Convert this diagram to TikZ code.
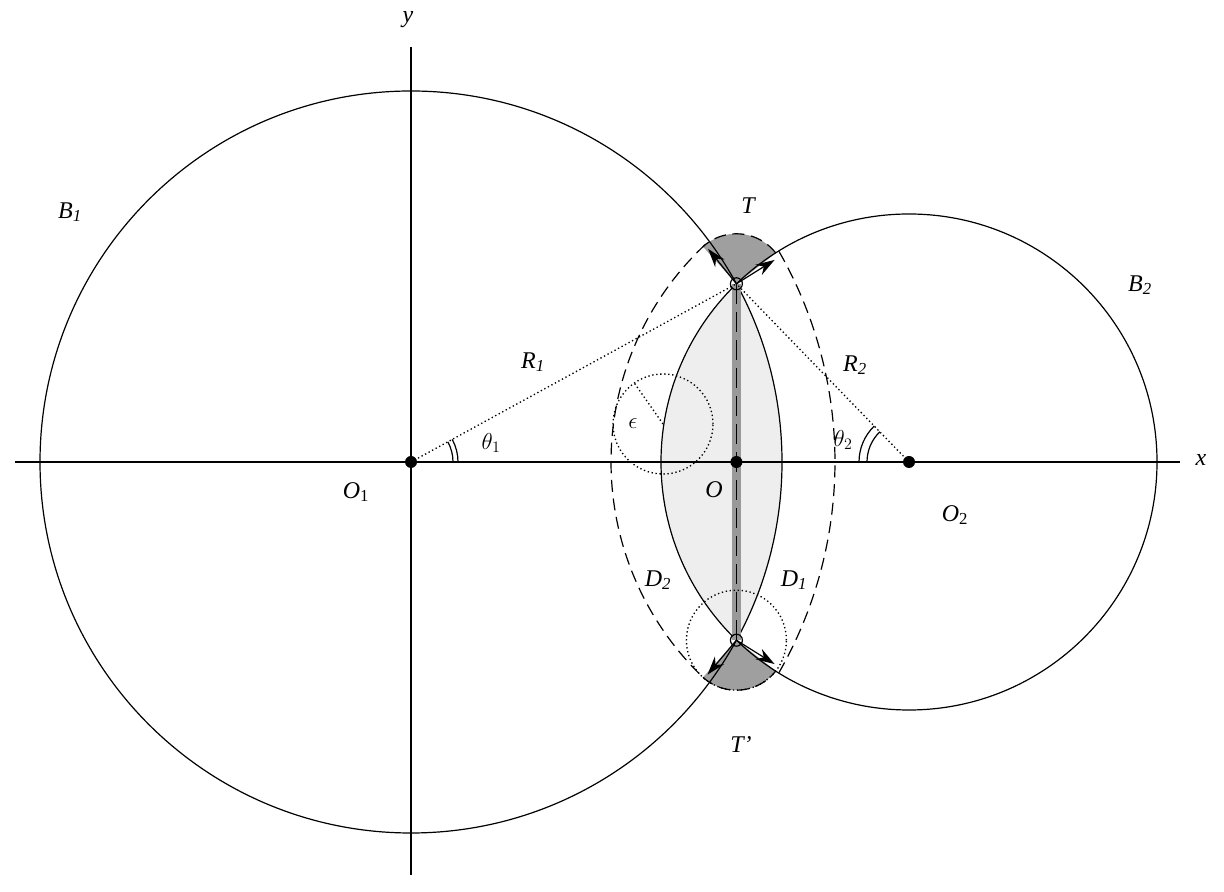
\documentclass[tikz,border=0pt]{standalone}
\usepackage{fontspec}
\setmainfont{Liberation Serif}
\usetikzlibrary{arrows.meta,calc}
\begin{document}
\begin{tikzpicture}[x=0.75pt,y=0.75pt,
  lab/.style={font=\fontsize{18}{22}\selectfont\itshape, inner sep=1pt},
  dotline/.style={dotted, line width=1pt},
  dsh/.style={dash pattern=on 9pt off 5pt, line width=0.9pt},
  tang/.style={-{Stealth[length=14pt,width=9pt]}, line width=0.9pt},
  ln/.style={line width=0.9pt}]
\useasboundingbox (0,0) rectangle (1224,892);
\coordinate (O1) at (411,430);
\coordinate (O2) at (909,430);
\coordinate (T) at (736.4,608.2);
\coordinate (Tp) at (736.4,251.8);
\coordinate (O) at (736.4,430);
% lens
\begin{scope}
\clip (O1) circle (371);
\fill[gray!13] (O2) circle (248);
\end{scope}
% caps
\fill[gray!75] (T) -- ($(T)+(38:50)$) arc (38:132:50) -- cycle;
\fill[gray!75] (Tp) -- ($(Tp)+(228:50)$) arc (228:322:50) -- cycle;
\draw[dsh] ($(T)+(38:50)$) arc (38:132:50);
\draw[dsh] ($(Tp)+(228:50)$) arc (228:322:50);
% axes
\coordinate (xa) at (15,430); \coordinate (xb) at (1180,430);
\coordinate (ya) at (411,17); \coordinate (yb) at (411,845);
\draw[ln] (xa) -- (xb);
\draw[ln] (ya) -- (yb);
\node[lab] (xl) at (1201,432) {x};
\node[lab] (yl) at (408,872) {y};
% circles
\draw[ln] (O1) circle (371);
\draw[ln] (O2) circle (248);
% dashed outer arcs
\draw[dsh] ($(O2)+(133.2:298)$) arc (133.2:226.8:298);
\draw[dsh] ($(O1)+(29.8:424)$) arc (29.8:-29.8:424);
% vertical gray line
\draw[gray!80, line width=7pt] (T) -- (Tp);
\draw[ln, dash pattern=on 15pt off 6pt] (T) -- (Tp);
% dotted radii
\draw[dotline] (O1) -- (T);
\draw[dotline] (O2) -- (T);
% epsilon circle
\coordinate (E) at (663,468);
\draw[dotline] (E) circle (50);
\coordinate (Er) at ($(E)+(125:50)$);
\draw[dotline] (E) -- (Er);
\draw[dotline] (Tp) circle (50);
% angles
\draw[ln] ($(O1)+(0:42)$) arc (0:28.7:42);
\draw[ln] ($(O1)+(0:47)$) arc (0:28.7:47);
\draw[ln] ($(O2)+(180:42)$) arc (180:134:42);
\draw[ln] ($(O2)+(180:50)$) arc (180:134:50);
% tangent arrows
\coordinate (a1) at ($(T)+(129:45)$);
\coordinate (a2) at ($(T)+(32:45)$);
\coordinate (a3) at ($(Tp)+(230:45)$);
\coordinate (a4) at ($(Tp)+(328:45)$);
\draw[tang] (T) -- (a1);
\draw[tang] (T) -- (a2);
\draw[tang] (Tp) -- (a3);
\draw[tang] (Tp) -- (a4);
% points
\fill (O1) circle (6); \fill (O2) circle (6); \fill (O) circle (6);
\draw[ln] (T) circle (6);
\draw[ln] (Tp) circle (6);
% labels
\node[lab] (B1) at (70,680) {B\textsubscript{1}};
\node[lab] (B2) at (1140,607) {B\textsubscript{2}};
\node[lab] (Tl) at (748,686) {T};
\node[lab] (Tpl) at (741,147) {T'};
\node[lab] (R1) at (533,530) {R\textsubscript{1}};
\node[lab] (R2) at (855,527) {R\textsubscript{2}};
\node[lab] (t1) at (491,449) {$\theta_1$};
\node[lab] (t2) at (843,452) {$\theta_2$};
\node[lab] (ep) at (633,468) {$\epsilon$};
\node[lab] (Ol) at (714,402) {O};
\node[lab] (O1l) at (356,400) {O\textsubscript{\upshape 1}};
\node[lab] (O2l) at (955,377) {O\textsubscript{\upshape 2}};
\node[lab] (D2) at (658,312) {D\textsubscript{2}};
\node[lab] (D1) at (794,312) {D\textsubscript{1}};
\end{tikzpicture}
\end{document}
